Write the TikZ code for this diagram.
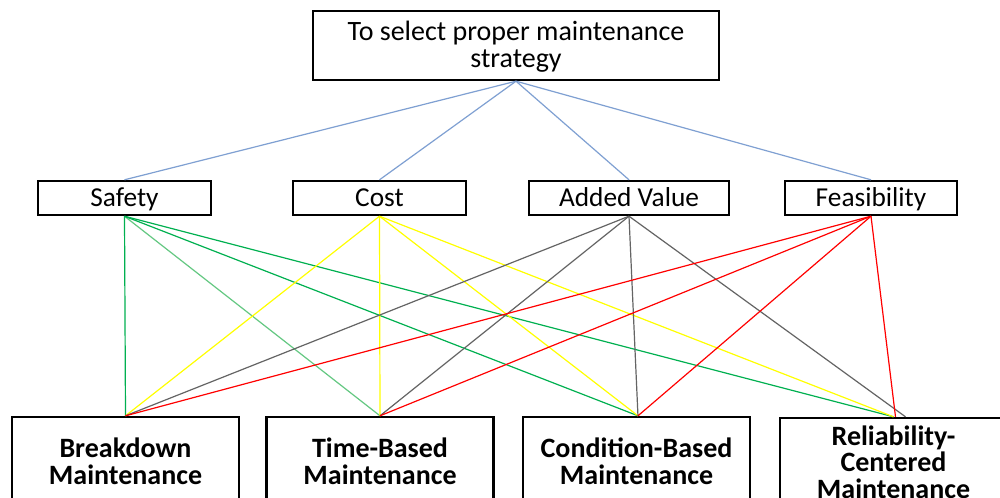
\documentclass[tikz,border=0pt]{standalone}
\usepackage{fontspec}
\setmainfont{Carlito}
\begin{document}
\begin{tikzpicture}[x=0.75pt,y=-0.75pt,
  box/.style={draw=black,line width=1.8pt,rectangle,inner sep=0pt,align=center},
  crit/.style={box,minimum height=25.5pt,text height=16pt,text depth=4pt,font=\fontsize{20.5}{22}\selectfont},
  alt/.style={box,minimum height=66pt,minimum width=170pt,font=\fontsize{21}{20.2}\selectfont\bfseries},
  toplink/.style={draw={rgb,255:red,127;green,160;blue,210},line width=0.9pt},
  gsaf/.style={draw={rgb,255:red,0;green,176;blue,80},line width=0.9pt},
  gsafl/.style={draw={rgb,255:red,100;green,200;blue,130},line width=0.9pt},
  ycost/.style={draw={rgb,255:red,255;green,255;blue,0},line width=0.9pt},
  gval/.style={draw={rgb,255:red,100;green,100;blue,100},line width=0.9pt},
  rfea/.style={draw={rgb,255:red,255;green,0;blue,0},line width=0.9pt}]
\useasboundingbox (0,0) rectangle (1000,497);
\clip (0,0) rectangle (1000,497);
\fill[white] (0,0) rectangle (1000,497);
\node[box,minimum width=304.5pt,minimum height=51.75pt,font=\fontsize{21}{20.2}\selectfont] (goal) at (516,45.5) {\rule{0pt}{17pt}To select proper maintenance\\strategy};
\node[crit,minimum width=129.75pt] (saf) at (124.5,198) {Safety};
\node[crit,minimum width=129.75pt] (cost) at (379.5,198) {Cost};
\node[crit,minimum width=150pt] (av) at (629,198) {Added Value};
\node[crit,minimum width=129pt] (fea) at (871,198) {Feasibility};
\node[alt] (bm) at (125.5,461) {Breakdown\\Maintenance};
\node[alt] (tbm) at (380,461) {Time-Based\\Maintenance};
\node[alt] (cbm) at (636.5,461) {Condition-Based\\Maintenance};
\node[alt,font=\fontsize{21}{19.8}\selectfont\bfseries] (rcm) at (893.5,462) {Reliability-\\Centered\\Maintenance};
\coordinate (rcmr) at ([xshift=1.5pt]rcm.north);
\coordinate (rcmg) at ([xshift=9pt]rcm.north);
\coordinate (cbmn) at ([xshift=1.1pt]cbm.north);
% top links
\draw[toplink] (goal.south) -- (saf.north);
\draw[toplink] (goal.south) -- (cost.north);
\draw[toplink] (goal.south) -- (av.north);
\draw[toplink] (goal.south) -- (fea.north);
% safety
\draw[gsaf] (saf.south) -- (bm.north);
\draw[gsafl] (saf.south) -- (tbm.north);
\draw[gsaf] (saf.south) -- (cbmn);
\draw[gsaf] (saf.south) -- (rcm.north);
% cost
\draw[ycost] (cost.south) -- (bm.north);
\draw[ycost] (cost.south) -- (tbm.north);
\draw[ycost] (cost.south) -- (cbmn);
\draw[ycost] (cost.south) -- (rcm.north);
% added value
\draw[gval] (av.south) -- (bm.north);
\draw[gval] (av.south) -- (tbm.north);
\draw[gval] (av.south) -- (cbmn);
\draw[gval] (av.south) -- (rcmg);
% feasibility
\draw[rfea] (fea.south) -- (bm.north);
\draw[rfea] (fea.south) -- (tbm.north);
\draw[rfea] (fea.south) -- (cbmn);
\draw[rfea] (fea.south) -- (rcmr);
\end{tikzpicture}
\end{document}
